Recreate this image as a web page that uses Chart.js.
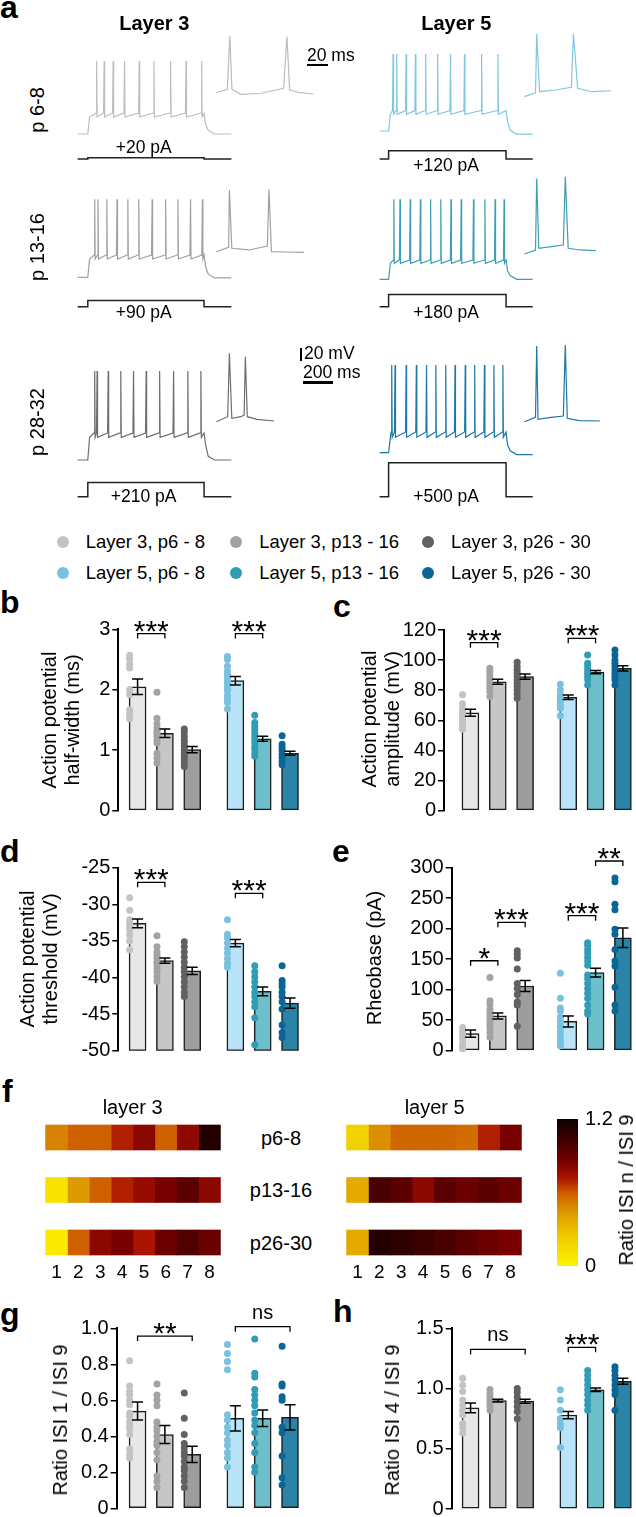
<!DOCTYPE html>
<html lang="en">
<head>
<meta charset="UTF-8">
<title>Layer 3 / layer 5 firing properties</title>
<script src="https://cdn.jsdelivr.net/npm/chart.js@4"></script>
<style>
  html, body { margin: 0; padding: 0; background: #fff; }
  #fig { position: relative; width: 636px; height: 1517px; overflow: hidden;
         font-family: "Liberation Sans", Arial, Helvetica, sans-serif; color: #000; }
  #fig canvas { position: absolute; }
  .t { position: absolute; white-space: nowrap; line-height: 1; }
</style>
</head>
<body>
<div id="fig"></div>
<script>
const FONT = '"Liberation Sans", Arial, Helvetica, sans-serif'

// ---------- groups ----------
const groupNames = ['Layer 3, p6 - 8', 'Layer 3, p13 - 16', 'Layer 3, p26 - 30',
                    'Layer 5, p6 - 8', 'Layer 5, p13 - 16', 'Layer 5, p26 - 30']
const barFill  = ['#e6e7e8', '#c6c6c6', '#9d9d9d', '#b9e3f7', '#6dbfcb', '#2a84a8']
const dotColor = ['#c3c3c3', '#a3a3a3', '#616161', '#79c2df', '#2f9db5', '#0a6697']

// ---------- panel a: example traces ----------
const rowNames = ['p 6-8', 'p 13-16', 'p 28-32']
const l3Stim = [20, 90, 210]      // pA
const l5Stim = [120, 180, 500]
const l3Step = [68, 843, 1025]    // step on, step off, sweep end (ms)
const l5Step = [60, 843, 1021]
const l3p68Spikes   = [127, 177, 237, 313, 411, 509, 620, 723, 827]
const l3p1316Spikes = [114, 136, 195, 263, 335, 408, 497, 587, 669, 753, 832]
const l3p2832Spikes = [114, 130, 204, 288, 373, 457, 547, 640, 735, 822]
const l5p68Spikes   = [90, 114, 177, 239, 307, 387, 473, 566, 680, 789]
const l5p1316Spikes = [95, 136, 204, 272, 340, 408, 476, 544, 626, 702, 770, 830]
const l5p2832Spikes = [81, 103, 177, 245, 313, 375, 441, 503, 571, 634, 699, 762, 822]
// rest, trough, threshold, peak, rest after step (mV)
const l3p68Levels   = [-70, -42.6, -36.1, 47.8, -70]
const l3p1316Levels = [-70, -40.5, -34, 55.8, -71]
const l3p2832Levels = [-70, -33.4, -26.4, 73.6, -70]
const l5p68Levels   = [-70, -43, -37, 54.2, -75]
const l5p1316Levels = [-70, -44.2, -38.9, 59, -70]
const l5p2832Levels = [-70, -45.2, -36.6, 71.5, -73]
// insets: first two spikes on an expanded time base
const l3p68InsetT   = [0, 10, 12.3, 14.2, 22.3, 40.8, 61.2, 64.2, 66.7, 76, 88.3]
const l3p68InsetV   = [-42.6, -37.1, 48.9, -37.1, -45.2, -43.5, -35.5, 47.8, -38.2, -42.6, -44.7]
const l3p1316InsetT = [0, 11.2, 11.9, 14.1, 29.7, 46.4, 47.9, 50.1, 63.1, 79.8]
const l3p1316InsetV = [-42.1, -35, 57.4, -36.6, -39.3, -32.9, 58.5, -42.1, -42.6, -43.2]
const l3p2832InsetT = [0, 10.4, 11.9, 14.1, 22.3, 25.3, 26.4, 28.2, 37.1, 52.7]
const l3p2832InsetV = [-33.4, -25.3, 77, -27.9, -25.3, -22.6, 71.5, -25.3, -29.5, -32.3]
const l5p68InsetT   = [0, 10, 11.1, 13.7, 27.8, 42.6, 44.5, 48.3, 61.2, 78.6]
const l5p68InsetV   = [-46.9, -40.5, 54.2, -38.9, -36.1, -31.8, 54.2, -33.4, -38.9, -37.3]
const l5p1316InsetT = [0, 10, 11.1, 13, 24.1, 35.3, 37.1, 39.7, 50.1, 64.9]
const l5p1316InsetV = [-44.2, -37.7, 77.7, -35, -32.4, -29.7, 80.3, -35, -37.7, -38.8]
const l5p2832InsetT = [0, 10, 11.1, 12.3, 24.1, 35.3, 37.1, 38.9, 50.1, 68.6]
const l5p2832InsetV = [-45.2, -38.1, 77, -41.3, -38.1, -36, 78.6, -39.7, -43.5, -44]

// ---------- panels b-e, g, h ----------
const hwMean = [2.05, 1.28, 1.01, 2.15, 1.19, 0.95]
const hwSem  = [0.13, 0.07, 0.05, 0.07, 0.04, 0.035]
const hwDots = [
  [2.57, 2.51, 2.42, 2.36, 2.0, 1.92, 1.67, 1.62, 1.56, 1.52],
  [1.96, 1.53, 1.44, 1.37, 1.31, 1.28, 1.23, 1.17, 1.12, 0.95, 0.87, 0.79],
  [1.35, 1.30, 1.23, 1.17, 1.12, 1.06, 1.01, 0.95, 0.90, 0.84, 0.79, 0.73],
  [2.55, 2.50, 2.39, 2.31, 2.25, 2.20, 2.14, 2.09, 2.03, 1.98, 1.90, 1.84, 1.79, 1.68],
  [1.58, 1.46, 1.40, 1.35, 1.29, 1.24, 1.18, 1.13, 1.07, 1.02, 0.96, 0.90],
  [1.24, 1.10, 1.04, 0.99, 0.93, 0.88, 0.82, 0.76]]
const ampMean = [65.0, 85.6, 89.0, 75.3, 92.0, 94.5]
const ampSem  = [2.3, 1.6, 1.8, 1.5, 1.1, 1.8]
const ampDots = [
  [77, 71, 68, 66, 64, 62, 60, 58, 56, 54],
  [94.6, 92.4, 90.2, 88, 85.8, 83.5, 81.3, 79.1, 75.8],
  [98.6, 95.7, 93.5, 91.3, 89.1, 86.9, 84.7, 82.4, 80.2, 77.5, 74.7],
  [84, 80.2, 76.8, 74.7, 72.5, 70.2, 68, 63],
  [103.4, 97.9, 95.7, 93.5, 91.3, 89.1, 86.9, 83.5],
  [106.7, 103.4, 100.1, 97.9, 95.7, 93.5, 91.3, 89.1, 86.9, 83.5]]
const thrMean = [-32.6, -37.7, -39.1, -35.3, -41.9, -43.5]
const thrSem  = [0.6, 0.35, 0.5, 0.5, 0.6, 0.7]
const thrDots = [
  [-29.1, -30.8, -32.1, -32.6, -33.1, -33.5, -34.2, -35.0, -36.2],
  [-34.3, -35.8, -36.5, -37.0, -37.4, -37.9, -38.3, -38.8, -39.2, -39.9, -40.5],
  [-35.1, -35.8, -36.5, -37.2, -37.9, -38.6, -39.2, -39.9, -40.6, -41.3, -42.0, -42.6],
  [-32.1, -34.1, -34.6, -35.3, -36.0, -36.7, -37.4, -38.1, -38.6],
  [-38.4, -39.2, -39.9, -40.6, -41.3, -42.0, -42.6, -43.3, -44.0, -45.5, -49.2],
  [-38.4, -40.4, -40.9, -41.3, -42.0, -42.6, -43.3, -44.3, -46.5, -47.5, -48.2]]
const rheoMean = [28, 57, 106, 48, 128, 185]
const rheoSem  = [6, 5, 9, 9, 7, 16]
const rheoDots = [
  [38, 32, 27, 22, 18, 12, 8, 5, 3],
  [120, 82, 76, 68, 62, 57, 52, 47, 42, 37, 30, 22],
  [164, 158, 152, 134, 110, 102, 92, 80, 75, 40],
  [127, 86, 70, 65, 55, 48, 40, 32, 25, 18, 12, 8],
  [177, 173, 166, 160, 153, 147, 140, 124, 118, 110, 102, 94, 86, 75, 65, 60],
  [283, 277, 240, 231, 199, 191, 166, 147, 139, 104, 75, 65]]
const isi1Mean = [0.54, 0.41, 0.30, 0.50, 0.50, 0.505]
const isi1Sem  = [0.05, 0.05, 0.045, 0.07, 0.046, 0.07]
const isi1Dots = [
  [0.82, 0.68, 0.65, 0.63, 0.60, 0.575, 0.53, 0.51, 0.48, 0.46, 0.44, 0.41, 0.33, 0.30, 0.28],
  [0.69, 0.63, 0.60, 0.57, 0.48, 0.45, 0.43, 0.40, 0.37, 0.35, 0.31, 0.27, 0.18, 0.15, 0.115],
  [0.64, 0.50, 0.41, 0.36, 0.335, 0.31, 0.29, 0.26, 0.23, 0.21, 0.18, 0.15, 0.115],
  [0.91, 0.86, 0.815, 0.77, 0.52, 0.49, 0.45, 0.42, 0.38, 0.35, 0.31, 0.28, 0.23],
  [0.94, 0.75, 0.73, 0.66, 0.63, 0.60, 0.57, 0.53, 0.49, 0.46, 0.42, 0.36, 0.31, 0.23, 0.20],
  [0.90, 0.69, 0.68, 0.62, 0.60, 0.45, 0.42, 0.29, 0.17, 0.13]]
const isi4Mean = [0.84, 0.90, 0.895, 0.78, 0.99, 1.06]
const isi4Sem  = [0.04, 0.012, 0.017, 0.03, 0.015, 0.025]
const isi4Dots = [
  [1.085, 1.03, 0.975, 0.905, 0.864, 0.82, 0.78, 0.71, 0.675, 0.63],
  [0.993, 0.96, 0.93, 0.905, 0.88, 0.85, 0.82],
  [1.0, 0.97, 0.93, 0.89, 0.85, 0.81, 0.75],
  [0.99, 0.905, 0.82, 0.75, 0.71, 0.675, 0.51],
  [1.15, 1.11, 1.07, 1.03, 0.99, 0.95, 0.905, 0.864, 0.82],
  [1.18, 1.15, 1.11, 1.07, 1.03, 0.99, 0.95, 0.82]]

// ---------- panel f: ISI n / ISI 9 ----------
const isiLabels = ['1', '2', '3', '4', '5', '6', '7', '8']
const ageRows = ['p6-8', 'p13-16', 'p26-30']
const l3IsiRatio = [
  [0.5, 0.585, 0.585, 0.70, 0.80, 0.585, 0.79, 1.12],
  [0.1, 0.44, 0.585, 0.70, 0.77, 0.85, 0.94, 0.80],
  [0.05, 0.585, 0.80, 0.85, 0.72, 0.89, 0.97, 0.89]]
const l5IsiRatio = [
  [0.2, 0.47, 0.57, 0.57, 0.57, 0.55, 0.70, 0.85],
  [0.37, 0.99, 0.94, 0.80, 0.94, 0.89, 0.94, 0.89],
  [0.37, 1.12, 1.08, 1.03, 0.99, 0.94, 0.89, 0.85]]
const colorbarRange = [0, 1.2]
const cmapStops = [[0, [252, 244, 0]], [0.25, [240, 200, 0]], [0.45, [220, 150, 0]],
  [0.6, [205, 90, 0]], [0.72, [170, 20, 0]], [0.85, [120, 0, 0]], [1.0, [70, 0, 0]], [1.2, [12, 0, 0]]]

// ================= helpers =================
Chart.defaults.font.family = FONT
Chart.defaults.color = '#000'
Chart.defaults.animation = false
Chart.defaults.responsive = false
Chart.defaults.devicePixelRatio = 1
Chart.defaults.events = []
Chart.defaults.plugins.legend.display = false
Chart.defaults.plugins.tooltip.enabled = false

const fig = document.getElementById('fig')

function addText(str, x, y, o = {}) {
  const d = document.createElement('div')
  d.className = 't'
  d.textContent = str
  d.style.left = x + 'px'
  d.style.top = y + 'px'
  d.style.fontSize = (o.size || 20) + 'px'
  if (o.bold) d.style.fontWeight = 'bold'
  const ax = o.anchor === 'left' ? '0' : '-50%'
  d.style.transform = `translate(${ax},-50%)` + (o.rot ? ' rotate(-90deg)' : '')
  fig.appendChild(d)
}
function addLetter(ch, x, baseline) {
  const size = 32
  const d = document.createElement('div')
  d.className = 't'
  d.textContent = ch
  d.style.left = x + 'px'
  d.style.top = (baseline - 0.8465 * size) + 'px'
  d.style.fontSize = size + 'px'
  d.style.fontWeight = 'bold'
  fig.appendChild(d)
}
function addBox(left, top, w, h, color) {
  const d = document.createElement('div')
  Object.assign(d.style, { position: 'absolute', left: left + 'px', top: top + 'px',
    width: w + 'px', height: h + 'px', background: color })
  fig.appendChild(d)
  return d
}
function addCanvas(left, top, w, h) {
  const c = document.createElement('canvas')
  c.width = w; c.height = h
  Object.assign(c.style, { left: left + 'px', top: top + 'px', width: w + 'px', height: h + 'px' })
  fig.appendChild(c)
  return c
}
function cmap(v) {
  for (let i = 1; i < cmapStops.length; i++) {
    const [v1, c1] = cmapStops[i]
    const [v0, c0] = cmapStops[i - 1]
    if (v <= v1 || i === cmapStops.length - 1) {
      const f = Math.max(0, Math.min(1, (v - v0) / (v1 - v0)))
      return `rgb(${c0.map((c, k) => Math.round(c + (c1[k] - c) * f)).join(',')})`
    }
  }
}

// ================= panel a =================
const MS_PX = 200 / 30, INSET_MS_PX = 20 / 22, MV_PX = 20 / 12.4, PA_PX = 14.7
const traceColors = [['#bdbdbd', '#a0a0a0', '#6e6e6e'], ['#80c7e0', '#3c9fb2', '#1b78a8']]
const spikes = [[l3p68Spikes, l3p1316Spikes, l3p2832Spikes], [l5p68Spikes, l5p1316Spikes, l5p2832Spikes]]
const levels = [[l3p68Levels, l3p1316Levels, l3p2832Levels], [l5p68Levels, l5p1316Levels, l5p2832Levels]]
const insetT = [[l3p68InsetT, l3p1316InsetT, l3p2832InsetT], [l5p68InsetT, l5p1316InsetT, l5p2832InsetT]]
const insetV = [[l3p68InsetV, l3p1316InsetV, l3p2832InsetV], [l5p68InsetV, l5p1316InsetV, l5p2832InsetV]]
const steps = [l3Step, l5Step], stims = [l3Stim, l5Stim]

// layout (page px)
const colBox = [[60, 330], [370, 630]]
const rowBox = [[25, 170], [168, 318], [330, 505]]
const traceX0 = [77.6, 379.6], insetX0 = [216.3, 524.5]
const restPx = [[134, 277.3, 460], [131, 279.3, 452.7]]
const insetRestPx = [[109.7, 269, 444.4], [111, 270, 437.1]]
const stimPx = [159, 306.7, 496.7]

function spikeTrain(sp, lv, step) {
  const [rest, trough, thr, peak, endRest] = lv
  const [on, off, end] = step
  const pts = [{ x: 0, y: rest }, { x: on, y: rest }, { x: on + 12, y: trough }]
  sp.forEach(s => pts.push({ x: s - 4, y: thr }, { x: s, y: peak }, { x: s + 3, y: trough }))
  pts.push({ x: off, y: thr }, { x: off + 10, y: trough - 12 }, { x: off + 28, y: endRest + 6 },
           { x: off + 70, y: endRest }, { x: end, y: endRest })
  return pts
}

for (let col = 0; col < 2; col++) {
  for (let row = 0; row < 3; row++) {
    const [L, R] = colBox[col], [T, B] = rowBox[row]
    const x0 = traceX0[col], xi0 = insetX0[col]
    const rp = restPx[col][row], irp = insetRestPx[col][row], sp = stimPx[row]
    const [on, off, end] = steps[col]
    const amp = stims[col][row]
    const cv = addCanvas(L, T, R - L, B - T)
    const color = traceColors[col][row]
    new Chart(cv, {
      type: 'line',
      data: { datasets: [
        { data: spikeTrain(spikes[col][row], levels[col][row], steps[col]), xAxisID: 'x', yAxisID: 'y',
          borderColor: color, borderWidth: 1.2 },
        { data: insetT[col][row].map((t, i) => ({ x: t, y: insetV[col][row][i] })), xAxisID: 'xi', yAxisID: 'yi',
          borderColor: color, borderWidth: 1.2 },
        { data: [{ x: 0, y: 0 }, { x: on, y: 0 }, { x: on, y: amp }, { x: off, y: amp }, { x: off, y: 0 }, { x: end, y: 0 }],
          xAxisID: 'x', yAxisID: 'ys', borderColor: '#222', borderWidth: 1.5 }
      ]},
      options: {
        layout: { padding: 0 },
        elements: { point: { radius: 0 }, line: { tension: 0 } },
        datasets: { line: { clip: false } },
        scales: {
          x:  { type: 'linear', display: false, min: (L - x0) * MS_PX, max: (R - x0) * MS_PX },
          xi: { type: 'linear', display: false, min: (L - xi0) * INSET_MS_PX, max: (R - xi0) * INSET_MS_PX },
          y:  { type: 'linear', display: false, min: -70 - (B - rp) * MV_PX, max: -70 + (rp - T) * MV_PX },
          yi: { type: 'linear', display: false, min: -70 - (B - irp) * MV_PX, max: -70 + (irp - T) * MV_PX },
          ys: { type: 'linear', display: false, min: -(B - sp) * PA_PX, max: (sp - T) * PA_PX }
        }
      }
    })
  }
}

addLetter('a', 0, 18)
addText('Layer 3', 154.3, 23, { size: 20, bold: true })
addText('Layer 5', 456.3, 23, { size: 20, bold: true })
const rowLabelY = [109.5, 247, 421.5]
rowNames.forEach((n, i) => addText(n, 37, rowLabelY[i], { size: 20, rot: true }))
const stimLabelY = [[148, 313.3, 496.7], [165.7, 313.3, 496.7]]
const stimLabelX = [143.7, 446.1]
stims.forEach((arr, col) => arr.forEach((v, row) =>
  addText(`+${v} pA`, stimLabelX[col], stimLabelY[col][row], { size: 17.5 })))
// scale bars
addText('20 ms', 307, 56, { size: 17.5, anchor: 'left' })
addBox(307, 63.5, 21, 2.8, '#000')
addBox(299.5, 348.3, 2.8, 12.4, '#000')
addText('20 mV', 304, 354.3, { size: 17.5, anchor: 'left' })
addText('200 ms', 303, 372.7, { size: 17.5, anchor: 'left' })
addBox(303, 381.2, 30, 2.8, '#000')

// legend
const legDotX = [63.3, 235.9, 427.8], legTextX = [85.7, 259.2, 451], legRowY = [541.7, 572.7]
groupNames.forEach((name, i) => {
  const r = Math.floor(i / 3), c = i % 3
  const d = addBox(legDotX[c] - 6, legRowY[r] - 6, 12, 12, dotColor[i])
  d.style.borderRadius = '50%'
  addText(name, legTextX[c], legRowY[r], { size: 18.5, anchor: 'left' })
})

// ================= bar panels =================
const groupX = [0, 1, 2, 3.58, 4.58, 5.58]
const PITCH = 27.9

const marks = {
  id: 'marks',
  afterDatasetsDraw(chart, args, o) {
    const { ctx } = chart
    const x = chart.scales.x, y = chart.scales.y
    ctx.save()
    ctx.strokeStyle = '#000'
    ctx.lineWidth = 1.5
    o.means.forEach((m, i) => {
      const px = x.getPixelForValue(groupX[i])
      const hi = y.getPixelForValue(m + o.sems[i]), lo = y.getPixelForValue(m - o.sems[i])
      ctx.beginPath()
      ctx.moveTo(px, hi); ctx.lineTo(px, lo)
      ctx.moveTo(px - 5.5, hi); ctx.lineTo(px + 5.5, hi)
      ctx.moveTo(px - 5.5, lo); ctx.lineTo(px + 5.5, lo)
      ctx.stroke()
    })
    ctx.lineWidth = 1.3
    ctx.fillStyle = '#000'
    ctx.textAlign = 'center'
    ctx.textBaseline = 'alphabetic'
    o.brackets.forEach(b => {
      const x1 = x.getPixelForValue(groupX[b.from]), x2 = x.getPixelForValue(groupX[b.to])
      const yy = y.getPixelForValue(b.at)
      ctx.beginPath()
      ctx.moveTo(x1, yy + 5); ctx.lineTo(x1, yy); ctx.lineTo(x2, yy); ctx.lineTo(x2, yy + 5)
      ctx.stroke()
      if (b.label === 'ns') {
        ctx.font = `20px ${FONT}`
        ctx.fillText('ns', (x1 + x2) / 2, yy - 8)
      } else {
        ctx.font = `30px ${FONT}`
        ctx.fillText(b.label, (x1 + x2) / 2, yy + 7)
      }
    })
    ctx.restore()
  }
}

const oneDecimal = v => (v === 0 ? '0' : v.toFixed(1))

function barPanel(p) {
  const left = Math.round(p.axisX) - 62
  const top = Math.round(p.topPx) - 42
  const W = Math.min(254, 636 - left)
  const H = Math.round(p.botPx) + 16 - top
  const cv = addCanvas(left, top, W, H)
  const xmin = -(p.firstPx - p.axisX) / PITCH
  const xmax = xmin + (left + W - p.axisX) / PITCH
  const datasets = [{
    type: 'bar',
    data: groupX.map((x, i) => ({ x, y: [p.min, p.means[i]] })),
    backgroundColor: barFill, borderColor: '#1c1c1c', borderWidth: 1.5, borderSkipped: false,
    barThickness: 17, order: 2
  }]
  p.dots.forEach((vals, i) => datasets.push({
    type: 'scatter',
    data: vals.map(v => ({ x: groupX[i] - 0.29, y: v })),
    backgroundColor: dotColor[i], pointRadius: 3.5, pointBorderWidth: 0, order: 1, clip: false
  }))
  new Chart(cv, {
    type: 'bar',
    data: { datasets },
    plugins: [marks],
    options: {
      layout: { padding: { left: 0, right: 0, top: p.topPx - top, bottom: top + H - p.botPx } },
      plugins: { marks: { means: p.means, sems: p.sems, brackets: p.brackets } },
      scales: {
        x: { type: 'linear', min: xmin, max: xmax, display: false, offset: false },
        y: {
          type: 'linear', min: p.min, max: p.max,
          afterFit: s => { s.width = p.axisX - left },
          afterBuildTicks: s => { s.ticks = p.ticks.map(value => ({ value })) },
          border: { display: true, color: '#000', width: 2 },
          grid: { drawOnChartArea: false, drawTicks: true, tickLength: 6, color: '#000', lineWidth: 1.5 },
          ticks: { padding: 2, font: { size: 20 }, color: '#000', callback: p.fmt || (v => String(v)) }
        }
      }
    }
  })
}

barPanel({ axisX: 118.3, topPx: 629.3, botPx: 810.7, min: 0, max: 3, ticks: [0, 1, 2, 3], firstPx: 138,
  means: hwMean, sems: hwSem, dots: hwDots,
  brackets: [{ from: 0, to: 1, at: 2.93, label: '***' }, { from: 3, to: 4, at: 2.93, label: '***' }] })
barPanel({ axisX: 444, topPx: 630, botPx: 810.6, min: 0, max: 120, ticks: [0, 20, 40, 60, 80, 100, 120], firstPx: 471,
  means: ampMean, sems: ampSem, dots: ampDots,
  brackets: [{ from: 0, to: 1, at: 111.6, label: '***' }, { from: 3, to: 4, at: 114.5, label: '***' }] })
barPanel({ axisX: 118.3, topPx: 867.7, botPx: 1050.7, min: -50, max: -25, ticks: [-50, -45, -40, -35, -30, -25], firstPx: 138,
  means: thrMean, sems: thrSem, dots: thrDots,
  brackets: [{ from: 0, to: 1, at: -27.0, label: '***' }, { from: 3, to: 4, at: -28.5, label: '***' }] })
barPanel({ axisX: 451.7, topPx: 867.7, botPx: 1050.7, min: 0, max: 300, ticks: [0, 50, 100, 150, 200, 250, 300], firstPx: 471,
  means: rheoMean, sems: rheoSem, dots: rheoDots,
  brackets: [{ from: 0, to: 1, at: 147.5, label: '*' }, { from: 1, to: 2, at: 210.5, label: '***' },
             { from: 3, to: 4, at: 221.3, label: '***' }, { from: 4, to: 5, at: 311, label: '**' }] })
barPanel({ axisX: 116.7, topPx: 1328.3, botPx: 1508.3, min: 0, max: 1, ticks: [0, 0.2, 0.4, 0.6, 0.8, 1], firstPx: 138,
  means: isi1Mean, sems: isi1Sem, dots: isi1Dots, fmt: oneDecimal,
  brackets: [{ from: 0, to: 2, at: 0.957, label: '**' }, { from: 3, to: 5, at: 1.009, label: 'ns' }] })
barPanel({ axisX: 451.7, topPx: 1328.3, botPx: 1509, min: 0, max: 1.5, ticks: [0, 0.5, 1, 1.5], firstPx: 471,
  means: isi4Mean, sems: isi4Sem, dots: isi4Dots, fmt: oneDecimal,
  brackets: [{ from: 0, to: 2, at: 1.325, label: 'ns' }, { from: 3, to: 4, at: 1.342, label: '***' }] })

addLetter('b', 0, 613)
addLetter('c', 333, 617)
addLetter('d', 0, 862)
addLetter('e', 332, 862)
addLetter('g', 0, 1325)
addLetter('h', 333, 1322)
addText('Action potential', 49.3, 720, { rot: true })
addText('half-width (ms)', 71.7, 720, { rot: true })
addText('Action potential', 369, 719, { rot: true })
addText('amplitude (mV)', 391.5, 719, { rot: true })
addText('Action potential', 27, 959, { rot: true })
addText('threshold (mV)', 50, 959, { rot: true })
addText('Rheobase (pA)', 374, 958, { rot: true })
addText('Ratio ISI 1 / ISI 9', 60, 1420, { rot: true })
addText('Ratio ISI 4 / ISI 9', 391.7, 1420, { rot: true })

// ================= panel f =================
function heatmap(left, vals) {
  const top = 1100, H = 188
  const cv = addCanvas(left, top, 200, H)
  new Chart(cv, {
    type: 'bar',
    data: {
      labels: ageRows,
      datasets: isiLabels.map((_, c) => ({
        data: ageRows.map(() => [c, c + 1]),
        backgroundColor: vals.map(row => cmap(row[c])),
        borderWidth: 0, barThickness: 25, grouped: false, clip: false
      }))
    },
    options: {
      indexAxis: 'y',
      layout: { padding: { top: 37.5, bottom: 0.5, left: 0, right: 0 } },
      scales: {
        y: { type: 'category', offset: false, display: false },
        x: {
          type: 'linear', min: 0, max: isiLabels.length,
          afterFit: s => { s.height = 45 },
          afterBuildTicks: s => { s.ticks = isiLabels.map((_, i) => ({ value: i + 0.5 })) },
          border: { display: false },
          grid: { display: false, drawTicks: false },
          ticks: { padding: 19, font: { size: 19 }, color: '#000', autoSkip: false, maxRotation: 0,
                   callback: (v, i) => isiLabels[i] }
        }
      }
    }
  })
}
heatmap(33, l3IsiRatio)
heatmap(334, l5IsiRatio)

{
  const cv = addCanvas(557, 1100, 60, 185)
  new Chart(cv, {
    type: 'bar',
    data: { labels: [''], datasets: [{
      data: [colorbarRange],
      barThickness: 21, borderWidth: 0,
      backgroundColor: c => {
        const ch = c.chart
        if (!ch.chartArea) return '#000'
        const y = ch.scales.y
        const g = ch.ctx.createLinearGradient(0, y.getPixelForValue(colorbarRange[0]), 0, y.getPixelForValue(colorbarRange[1]))
        cmapStops.forEach(([v, rgb]) => g.addColorStop(v / colorbarRange[1], `rgb(${rgb.join(',')})`))
        return g
      }
    }]},
    options: {
      layout: { padding: { top: 13, bottom: 17, left: 0, right: 0 } },
      scales: {
        x: { display: false },
        y: {
          position: 'right', min: colorbarRange[0], max: colorbarRange[1],
          afterFit: s => { s.width = 39 },
          afterBuildTicks: s => { s.ticks = colorbarRange.map(value => ({ value })) },
          border: { display: false },
          grid: { display: false, drawTicks: false },
          ticks: { padding: 7, font: { size: 20 }, color: '#000', callback: oneDecimal }
        }
      }
    }
  })
}

addLetter('f', 2, 1102)
addText('layer 3', 132.7, 1106.7)
addText('layer 5', 434.7, 1106.7)
const heatRowY = [1137.5, 1190, 1242.5]
ageRows.forEach((n, i) => addText(n, 281, heatRowY[i]))
addText('Ratio ISI n / ISI 9', 626, 1190, { rot: true })
</script>
</body>
</html>
